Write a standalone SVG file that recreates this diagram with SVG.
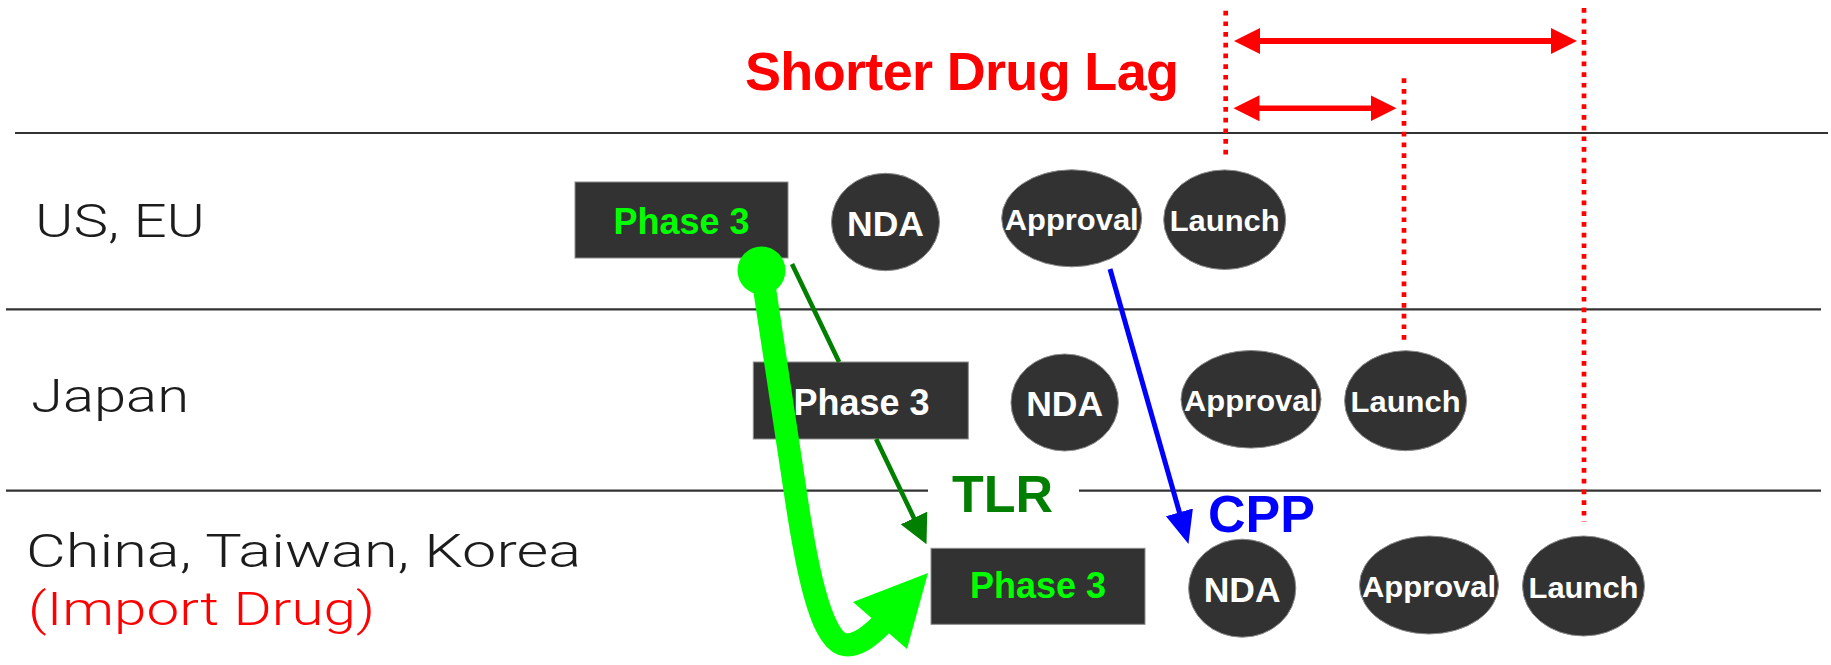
<svg xmlns="http://www.w3.org/2000/svg" width="1831" height="665" viewBox="0 0 1831 665">
<style>
.lane{stroke:#333;stroke-width:2.2;fill:none}
.dot{stroke:#FF0000;stroke-width:4.7;stroke-dasharray:4.7 6;fill:none}
.box{fill:#323232;stroke:#8c8c8c;stroke-width:1}
.ell{fill:#323232;stroke:#8c8c8c;stroke-width:1}
.nt{font-family:"Liberation Sans",Arial,sans-serif;font-weight:bold;text-anchor:middle;fill:#fff}
.g{fill:#00FF00}
.region{font-family:Roboto,"Liberation Sans",sans-serif;font-weight:300;font-size:47px;fill:#1c1c1c}
.red{fill:#FF0000}
.big{font-family:"Liberation Sans",Arial,sans-serif;font-weight:bold}
</style>
<defs>
<marker id="redHead" markerUnits="userSpaceOnUse" markerWidth="27" markerHeight="26" refX="1" refY="13" orient="auto-start-reverse" viewBox="0 0 27 26">
<path d="M0,0 L26,13 L0,26 z" fill="#FF0000"/>
</marker>
<marker id="dgHead" markerUnits="userSpaceOnUse" markerWidth="30" markerHeight="30" refX="1" refY="14.75" orient="auto" viewBox="0 0 30 30">
<path d="M0,0 L29,14.75 L0,29.5 z" fill="#007F00"/>
</marker>
<marker id="blueHead" markerUnits="userSpaceOnUse" markerWidth="34" markerHeight="29" refX="1" refY="14" orient="auto" viewBox="0 0 34 29">
<path d="M0,0 L33,14 L0,28 z" fill="#0000FF"/>
</marker>
</defs>
<rect width="1831" height="665" fill="#fff"/>

<g id="lanes">
<line class="lane" x1="15" y1="133" x2="1828" y2="133"/>
<line class="lane" x1="6" y1="309.3" x2="1821" y2="309.3"/>
<line class="lane" x1="6" y1="490.7" x2="928" y2="490.7"/>
<line class="lane" x1="1079" y1="490.7" x2="1821" y2="490.7"/>
</g>

<g id="lag">
<line class="dot" x1="1225.7" y1="10.7" x2="1225.7" y2="156"/>
<line class="dot" x1="1404" y1="78.3" x2="1404" y2="340"/>
<line class="dot" x1="1584" y1="8" x2="1584" y2="522"/>
<line x1="1259" y1="41" x2="1552" y2="41" stroke="#FF0000" stroke-width="6" marker-start="url(#redHead)" marker-end="url(#redHead)"/>
<line x1="1258.5" y1="108.3" x2="1371.5" y2="108.3" stroke="#FF0000" stroke-width="5.5" marker-start="url(#redHead)" marker-end="url(#redHead)"/>
<text class="big" x="745" y="90" font-size="54" textLength="434" fill="#FF0000">Shorter Drug Lag</text>
</g>

<g id="labels">
<text class="region" x="35" y="236.7" textLength="170" lengthAdjust="spacingAndGlyphs">US, EU</text>
<text class="region" x="31" y="412" textLength="158" lengthAdjust="spacingAndGlyphs">Japan</text>
<text class="region" x="26" y="566.7" textLength="555" lengthAdjust="spacingAndGlyphs">China, Taiwan, Korea</text>
<text class="region red" x="28" y="625" textLength="347" lengthAdjust="spacingAndGlyphs">(Import Drug)</text>
</g>

<g id="us-phase3"><rect class="box" x="575" y="182" width="213" height="76"/><text class="nt g" x="681.5" y="233.5" font-size="36">Phase 3</text></g>
<g id="us-nda"><ellipse class="ell" cx="885.5" cy="222" rx="54" ry="48.7"/><text class="nt" x="885.5" y="235.5" font-size="35.5">NDA</text></g>
<g id="us-approval"><ellipse class="ell" cx="1071.7" cy="218.3" rx="70" ry="48.5"/><text class="nt" x="1071.7" y="230" font-size="30" textLength="134" lengthAdjust="spacingAndGlyphs">Approval</text></g>
<g id="us-launch"><ellipse class="ell" cx="1224.7" cy="219.7" rx="61" ry="49.8"/><text class="nt" x="1224.7" y="230.6" font-size="30" textLength="110" lengthAdjust="spacingAndGlyphs">Launch</text></g>

<g id="jp-phase3"><rect class="box" x="753.3" y="362" width="215" height="77"/><text class="nt" x="861.5" y="415" font-size="36">Phase 3</text></g>
<g id="jp-nda"><ellipse class="ell" cx="1064.7" cy="402.5" rx="53.7" ry="48.5"/><text class="nt" x="1064.7" y="416" font-size="35.5">NDA</text></g>
<g id="jp-approval"><ellipse class="ell" cx="1251" cy="399.3" rx="70" ry="48.8"/><text class="nt" x="1251" y="411" font-size="30" textLength="134" lengthAdjust="spacingAndGlyphs">Approval</text></g>
<g id="jp-launch"><ellipse class="ell" cx="1405.6" cy="400.7" rx="61" ry="50"/><text class="nt" x="1405.6" y="412" font-size="30" textLength="110" lengthAdjust="spacingAndGlyphs">Launch</text></g>

<g id="cn-phase3"><rect class="box" x="931" y="548.3" width="214" height="76"/><text class="nt g" x="1038" y="598.3" font-size="36">Phase 3</text></g>
<g id="cn-nda"><ellipse class="ell" cx="1242.2" cy="588.2" rx="53.6" ry="49"/><text class="nt" x="1242.2" y="601.7" font-size="35.5">NDA</text></g>
<g id="cn-approval"><ellipse class="ell" cx="1429" cy="585" rx="69.5" ry="49"/><text class="nt" x="1429" y="596.7" font-size="30" textLength="134" lengthAdjust="spacingAndGlyphs">Approval</text></g>
<g id="cn-launch"><ellipse class="ell" cx="1583.5" cy="586" rx="61" ry="50"/><text class="nt" x="1583.5" y="597.7" font-size="30" textLength="110" lengthAdjust="spacingAndGlyphs">Launch</text></g>

<g id="connectors">
<path d="M792,264 L839.1,362 M876.1,439 L914.4,518.9" fill="none" stroke="#007F00" stroke-width="4.6" marker-end="url(#dgHead)"/>
<circle cx="761.5" cy="270.5" r="24" fill="#00FF00"/>
<path d="M762,272 L795,490 C806,565 820,636 842,644 C855,648 868,638 882,624" fill="none" stroke="#00FF00" stroke-width="23"/>
<polygon points="853,602 928,573 907,649" fill="#00FF00"/>
<line x1="1110" y1="269" x2="1179.7" y2="513.3" stroke="#0000FF" stroke-width="5" marker-end="url(#blueHead)"/>
<text class="big" x="952" y="511.7" font-size="52" fill="#007F00">TLR</text>
<text class="big" x="1208" y="531.7" font-size="52" fill="#0000FF">CPP</text>
</g>
</svg>
